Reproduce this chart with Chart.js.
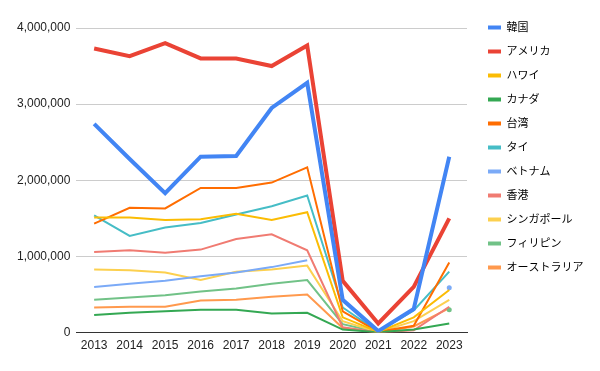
<!DOCTYPE html>
<html>
<head>
<meta charset="utf-8">
<script src="https://cdn.jsdelivr.net/npm/chart.js@4/dist/chart.umd.min.js"></script>
<style>
  html, body { margin: 0; padding: 0; background: #fff; }
  #wrap { width: 600px; height: 371px; }
</style>
</head>
<body>
<div id="wrap"><canvas id="myChart"></canvas></div>
<script>
const years = ['2013', '2014', '2015', '2016', '2017', '2018', '2019', '2020', '2021', '2022', '2023']

const korea       = [2740000, 2280000, 1830000, 2310000, 2320000, 2950000, 3280000, 430000, 20000, 310000, 2310000]
const america     = [3730000, 3630000, 3800000, 3600000, 3600000, 3500000, 3770000, 680000, 120000, 600000, 1500000]
const hawaii      = [1510000, 1510000, 1480000, 1490000, 1560000, 1480000, 1580000, 200000, 10000, 200000, 560000]
const canada      = [230000, 260000, 280000, 300000, 300000, 250000, 260000, 40000, 5000, 40000, 120000]
const taiwan      = [1430000, 1640000, 1630000, 1900000, 1900000, 1970000, 2170000, 280000, 10000, 90000, 920000]
const thai        = [1540000, 1270000, 1380000, 1440000, 1550000, 1660000, 1800000, 330000, 10000, 290000, 800000]
const vietnam     = [600000, 640000, 680000, 740000, 790000, 860000, 950000, null, null, null, 590000]
const hongkong    = [1060000, 1080000, 1050000, 1090000, 1230000, 1290000, 1080000, 70000, 3000, 30000, 340000]
const singapore   = [830000, 820000, 790000, 690000, 800000, 830000, 880000, 150000, 5000, 150000, 430000]
const philippines = [430000, 460000, 490000, 540000, 580000, 640000, 690000, 110000, 5000, null, 300000]
const australia   = [330000, 340000, 340000, 420000, 430000, 470000, 500000, 60000, 2000, 80000, 320000]

const seriesNames = ['韓国', 'アメリカ', 'ハワイ', 'カナダ', '台湾', 'タイ', 'ベトナム', '香港', 'シンガポール', 'フィリピン', 'オーストラリア']
const seriesData = [korea, america, hawaii, canada, taiwan, thai, vietnam, hongkong, singapore, philippines, australia]
const colors = ['#4285f4', '#ea4335', '#fbbc04', '#34a853', '#ff6d01', '#46bdc6', '#7baaf7', '#f07b72', '#fcd04f', '#71c287', '#ff994d']

const fontFamily = "Arial, 'Liberation Sans', 'Noto Sans CJK JP', sans-serif"

// isolated points (neighbours missing) get a dot, everything else is a plain line
function lonelyPoint(ctx) {
  const d = ctx.dataset.data
  const i = ctx.dataIndex
  if (d[i] == null) return 0
  const prev = i === 0 || d[i - 1] == null
  const next = i === d.length - 1 || d[i + 1] == null
  return prev && next ? 2.5 : 0
}

const datasets = seriesNames.map((name, k) => ({
  label: name,
  data: seriesData[k],
  borderColor: colors[k],
  backgroundColor: colors[k],
  borderWidth: k < 2 ? 4 : 2,
  tension: 0,
  fill: false,
  spanGaps: false,
  pointRadius: lonelyPoint,
  pointHoverRadius: 0,
  pointBorderWidth: 0,
}))

// fix the legend width so the plot area ends where the reference does,
// then nudge the legend to where the reference puts it
const legendPlace = {
  id: 'legendPlace',
  beforeInit(chart) {
    const fit = chart.legend.fit
    chart.legend.fit = function () {
      fit.call(this)
      this.width = 133
    }
  },
  afterLayout(chart) {
    chart.legend.top = 9
    chart.legend.left += 8
  }
}

new Chart(document.querySelector('#myChart'), {
  type: 'line',
  data: { labels: years, datasets: datasets },
  plugins: [legendPlace],
  options: {
    responsive: true,
    maintainAspectRatio: false,
    animation: false,
    layout: { padding: { top: 28, left: 11, bottom: 12, right: 0 } },
    plugins: {
      tooltip: { enabled: false },
      legend: {
        position: 'right',
        align: 'start',
        labels: {
          boxWidth: 13,
          boxHeight: 4,
          padding: 13,
          color: '#222',
          font: { family: fontFamily, size: 11 },
          generateLabels(chart) {
            return chart.data.datasets.map((ds, i) => ({
              text: ds.label,
              fillStyle: ds.borderColor,
              strokeStyle: ds.borderColor,
              lineWidth: 0,
              hidden: false,
              datasetIndex: i,
            }))
          }
        }
      }
    },
    scales: {
      x: {
        offset: true,
        grid: { display: false, drawTicks: false },
        border: { display: true, color: '#333', width: 1 },
        ticks: {
          color: '#222',
          font: { family: fontFamily, size: 12 },
          padding: 6,
          maxRotation: 0,
          autoSkip: false,
        }
      },
      y: {
        min: 0,
        max: 4000000,
        grid: { color: '#cccccc', drawTicks: false },
        border: { display: false },
        ticks: {
          stepSize: 1000000,
          color: '#222',
          font: { family: fontFamily, size: 12 },
          padding: 6,
          callback: v => v.toLocaleString('en-US'),
        }
      }
    }
  }
})
</script>
</body>
</html>
